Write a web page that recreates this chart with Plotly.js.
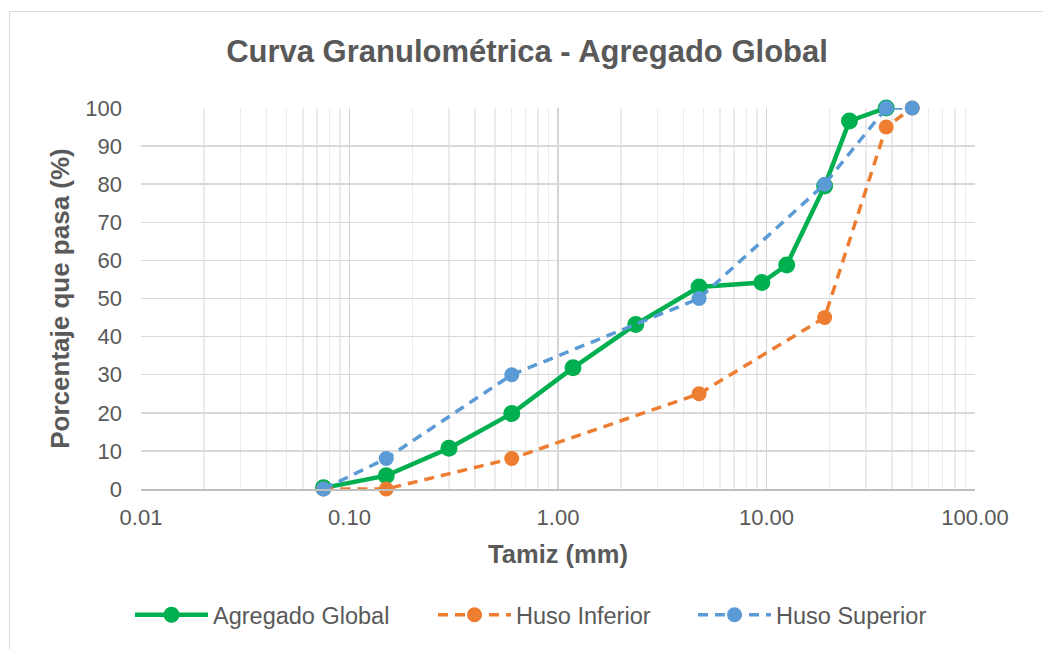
<!DOCTYPE html>
<html>
<head>
<meta charset="utf-8">
<script src="https://cdn.plot.ly/plotly-3.0.1.min.js"></script>
<style>
  html, body { margin: 0; padding: 0; background: #ffffff; }
  #wrap { position: relative; width: 1043px; height: 649px; overflow: hidden; }
  #frame { position: absolute; left: 9px; top: 11px; width: 1100px; height: 700px;
           border-top: 1.5px solid #d9d9d9; border-left: 1.5px solid #d9d9d9; pointer-events: none; }
  #chart { position: absolute; left: 0; top: 0; width: 1043px; height: 649px; }
</style>
</head>
<body>
<div id="wrap">
  <div id="chart"></div>
  <div id="frame"></div>
</div>
<script>
// Data
const sieveGlobal = [0.075, 0.15, 0.3, 0.6, 1.18, 2.36, 4.75, 9.5, 12.5, 19, 25, 37.5];
const passGlobal  = [0.3, 3.5, 10.7, 19.8, 31.8, 43.2, 53.0, 54.2, 58.8, 79.5, 96.6, 100];

const sieveHuso = [0.075, 0.15, 0.6, 4.75, 19, 37.5, 50];
const passInferior = [0, 0, 8, 25, 45, 95, 100];
const passSuperior = [0, 8, 30, 50, 80, 100, 100];

const xTickVals = [0.01, 0.1, 1, 10, 100];
const xTickText = ['0.01', '0.10', '1.00', '10.00', '100.00'];

const seriesNames = ['Agregado Global', 'Huso Inferior', 'Huso Superior'];
const colors = ['#00B050', '#ED7D31', '#5B9BD5'];

const FONT = 'Liberation Sans, Arial, sans-serif';
const TXT = '#595959';

const traces = [
  {
    x: sieveGlobal, y: passGlobal, name: seriesNames[0], type: 'scatter', mode: 'lines+markers',
    line: { color: colors[0], width: 4.5 },
    marker: { color: colors[0], size: 17 },
    cliponaxis: false, legend: 'legend'
  },
  {
    x: sieveHuso, y: passInferior, name: seriesNames[1], type: 'scatter', mode: 'lines+markers',
    line: { color: colors[1], width: 3.5, dash: '10px,7px' },
    marker: { color: colors[1], size: 15 },
    cliponaxis: false, legend: 'legend2'
  },
  {
    x: sieveHuso, y: passSuperior, name: seriesNames[2], type: 'scatter', mode: 'lines+markers',
    line: { color: colors[2], width: 3.5, dash: '10px,7px' },
    marker: { color: colors[2], size: 15 },
    cliponaxis: false, legend: 'legend3'
  }
];

const legendBase = {
  orientation: 'h', xref: 'container', yref: 'container', yanchor: 'middle', xanchor: 'left',
  y: 1 - 615/649, font: { family: FONT, size: 23.5, color: TXT }, bgcolor: 'rgba(0,0,0,0)',
  itemwidth: 73
};

const layout = {
  width: 1043, height: 649,
  margin: { l: 141, r: 68, t: 108, b: 160 },
  paper_bgcolor: '#ffffff', plot_bgcolor: '#ffffff',
  font: { family: FONT, color: TXT },
  showlegend: true,
  title: {
    text: '<b>Curva Granulométrica - Agregado Global</b>',
    font: { family: FONT, size: 31, color: TXT },
    xref: 'container', x: 527/1043, xanchor: 'center',
    yref: 'container', y: 1 - 51/649, yanchor: 'middle'
  },
  xaxis: {
    type: 'log', range: [-2, 2],
    tickvals: xTickVals, ticktext: xTickText,
    tickfont: { family: FONT, size: 22, color: TXT },
    ticklabelstandoff: 8,
    showgrid: true, gridcolor: '#d4d4d4', gridwidth: 1.5,
    minor: { showgrid: true, gridcolor: '#ebebeb', gridwidth: 1.5, dtick: 'D1' },
    showline: true, linecolor: '#bfbfbf', linewidth: 1.5,
    ticks: '', zeroline: false,
    title: { text: '<b>Tamiz (mm)</b>', font: { family: FONT, size: 25.5, color: TXT }, standoff: 16 }
  },
  yaxis: {
    range: [0, 100], dtick: 10, tick0: 0,
    tickfont: { family: FONT, size: 22, color: TXT },
    ticklabelstandoff: 18,
    showgrid: true, gridcolor: '#d9d9d9', gridwidth: 1.5,
    zeroline: false, showline: false, ticks: '', ticklen: 0,
    title: { text: '<b>Porcentaje que pasa (%)</b>', font: { family: FONT, size: 26, color: TXT }, standoff: 8 }
  },
  legend: Object.assign({}, legendBase, { x: 130/1043 }),
  legend2: Object.assign({}, legendBase, { x: 433/1043 }),
  legend3: Object.assign({}, legendBase, { x: 693/1043 })
};

Plotly.newPlot('chart', traces, layout, { displayModeBar: false, staticPlot: true });
</script>
</body>
</html>
